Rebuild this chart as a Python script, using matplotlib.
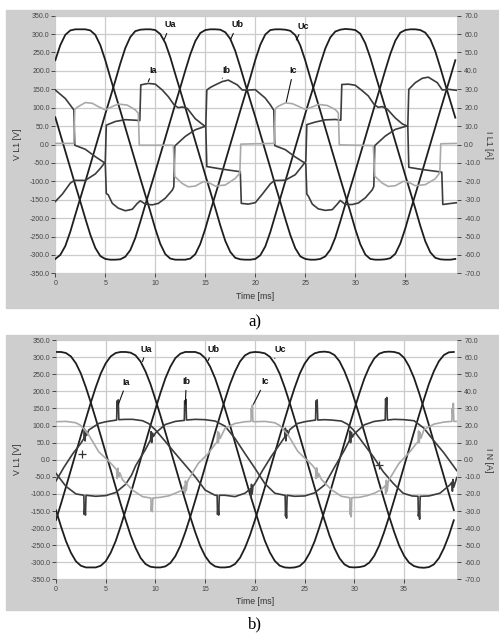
import numpy as np
import matplotlib.pyplot as plt
from matplotlib.patches import Rectangle

plt.rcParams['font.family'] = ['Liberation Sans', 'DejaVu Sans']

W, H = 499, 635

# voltage samples every 0.5 ms
t_v = np.arange(0, 40.25, 0.5)

# ---- a) voltages [V]
ua_a = [-311, -300, -276, -237, -191, -146, -101, -55, -9, 37, 83, 128, 173, 220, 262, 292, 308, 312, 313, 313,
        311, 300, 276, 237, 191, 146, 101, 55, 9, -37, -83, -128, -173, -220, -262, -292, -308, -312, -313, -313,
        -311, -301, -277, -238, -192, -146, -100, -54, -8, 38, 84, 129, 172, 219, 261, 291, 307, 312, 314, 313,
        311, 301, 275, 236, 190, 145, 100, 54, 8, -38, -84, -129, -174, -221, -263, -293, -308, -312, -313, -313,
        -311]
ub_a = [74, 28, -18, -64, -110, -155, -201, -245, -281, -303, -311, -313, -313, -312, -305, -287, -254, -210, -164,
        -119, -74, -28, 18, 64, 110, 155, 201, 245, 281, 303, 311, 313, 313, 312, 305, 287, 254, 210, 164, 119,
        75, 29, -17, -63, -111, -156, -202, -246, -282, -304, -311, -313, -313, -311, -304, -286, -253, -209, -163,
        -118, -73, -27, 19, 65, 111, 156, 202, 246, 282, 304, 311, 313, 313, 311, 304, 286, 253, 209, 163, 118,
        73]
uc_a = [229, 270, 298, 310, 313, 313, 313, 310, 298, 270, 229, 182, 137, 92, 46, 0, -46, -92, -137, -182,
        -229, -270, -298, -310, -313, -313, -313, -310, -298, -270, -229, -182, -137, -92, -46, 0, 46, 92, 137, 182,
        230, 271, 299, 311, 313, 313, 312, 309, 297, 269, 228, 181, 136, 91, 45, -1, -47, -93, -138, -183,
        -230, -271, -299, -311, -313, -313, -312, -309, -297, -269, -228, -181, -136, -91, -45, 1, 47, 93, 138, 183,
        229]

# ---- a) currents [A]
ia_a_t = [0, 0.7, 1.5, 1.9, 3.0, 4.0, 4.5, 5.0, 5.1, 6.0, 7.0, 8.0, 8.45, 8.55, 9.3, 10.0, 10.7, 11.3, 11.9, 12.3,
          12.7, 13.2, 14.0, 14.7, 15.05, 15.15, 16.7, 18.5, 18.6, 19.3,
          20, 20.7, 21.5, 21.9, 23.0, 24.0, 24.5, 25.05, 25.15, 26.0, 27.0, 28.0, 28.55, 28.65, 29.3, 30.0, 30.7,
          31.3, 31.9, 32.3, 32.7, 33.2, 34.0, 34.7, 35.25, 35.35, 36.7, 38.65, 38.75, 39.3, 40.2]
ia_a = [-31, -27, -21, -19.5, -19.5, -16, -13, -9.5, 10.5, 12.5, 13.5, 13.2, 13, 32.4, 33.2, 32.8, 29.6, 26, 21.4, 20,
        20.4, 19.6, 14, 11, 9.6, -12, -13.4, -14.8, -32, -32.4,
        -31.6, -27, -21.4, -19.6, -19.4, -16.4, -13, -9.2, 10.8, 12.2, 13.4, 13.6, 13.2, 32.6, 32.8, 32.2, 29.2,
        26.4, 21.6, 20.2, 20.6, 19.2, 14.4, 11.2, 9.8, -12.4, -13.6, -15, -32.6, -32.2, -31.6]

ib_a_t = [0, 1.0, 1.5, 1.85, 1.95, 3.0, 4.0, 5.0, 5.1, 5.3, 5.7, 6.3, 7.0, 7.7, 8.2, 8.5, 9.0, 9.7, 10.3, 11.0,
          11.7, 11.85, 11.95, 13.0, 14.0, 15.05, 15.15, 15.5, 16.0, 16.7, 17.3, 18.2, 18.7, 19.3,
          20, 21.0, 21.5, 21.85, 21.95, 23.0, 24.0, 25.05, 25.15, 25.3, 25.7, 26.3, 27.0, 27.7, 28.2, 28.5, 29.0,
          29.7, 30.3, 31.0, 31.7, 31.85, 31.95, 33.0, 34.0, 35.25, 35.35, 36.0, 36.7, 37.3, 38.2, 38.7, 39.3, 40.2]
ib_a = [29.6, 25, 21.4, 18.8, -0.4, -2.6, -6.6, -10.2, -26.6, -27.4, -32, -34.6, -36, -35.2, -32, -30.6, -32.4,
        -32.8, -32, -29.2, -24.8, -23, -0.8, 4.4, 8, 10, 29.6, 31, 32.4, 34.2, 35, 32.4, 29.6, 29.6,
        29.8, 25.2, 21.6, 18.6, -0.6, -2.8, -6.8, -10.4, -27, -28, -32.4, -35, -35.8, -35.4, -32.4, -30.4, -32.6,
        -32.6, -31.8, -29, -24.6, -22.8, -0.6, 4.6, 8.2, 10.2, 30, 33.6, 36, 36.6, 33.6, 29.6, 30, 29.4]

ic_a_t = [0, 1.85, 1.95, 2.3, 3.0, 3.7, 4.3, 5.0, 5.7, 6.3, 7.2, 8.0, 8.3, 8.4, 11.8, 11.95, 12.7, 13.3, 14.0,
          14.8, 15.3, 16.0, 17.0, 18.0, 18.45, 18.55,
          20, 21.9, 22.0, 22.3, 23.0, 23.7, 24.3, 25.0, 25.7, 26.3, 27.2, 28.0, 28.3, 28.4, 31.8, 31.95, 32.7, 33.3,
          34.0, 34.8, 35.3, 36.0, 37.0, 38.0, 38.45, 38.55, 40.2]
ic_a = [0.6, 0.6, 19.2, 20.6, 22.8, 22.4, 20.6, 18.8, 20.6, 22, 21.4, 18.8, 17, -0.4, -0.4, -17.4, -21.2, -23,
        -22.6, -20.2, -20.6, -22.6, -22, -18.4, -15.6, 0.2,
        0.4, 0.6, 19.4, 20.8, 22.6, 22.2, 20.8, 19, 20.4, 21.8, 21.2, 19, 17.2, -0.2, -0.6, -17.2, -21, -22.8,
        -22.4, -20, -20.4, -22.4, -21.8, -18.6, -15.4, 0.4, 0.6]

# ---- b) voltages [V]
ua_b = [-176, -129, -80, -30, 20, 70, 119, 167, 212, 252, 282, 302, 312, 315, 315, 313, 305, 287, 258, 221,
        176, 129, 80, 30, -20, -70, -119, -167, -212, -252, -282, -302, -312, -315, -315, -313, -305, -287, -258, -221,
        -177, -130, -81, -31, 19, 69, 118, 166, 211, 251, 281, 301, 311, 315, 316, 314, 306, 288, 259, 222,
        177, 130, 81, 31, -19, -69, -118, -166, -211, -251, -281, -301, -311, -315, -316, -314, -306, -288, -259, -222,
        -177]
ub_b = [-148, -195, -238, -272, -297, -310, -315, -315, -315, -310, -297, -272, -238, -195, -148, -100, -50, 0, 50, 100,
        148, 195, 238, 272, 297, 310, 315, 315, 315, 310, 297, 272, 238, 195, 148, 100, 50, 0, -50, -100,
        -147, -194, -237, -271, -296, -310, -315, -316, -315, -311, -298, -273, -239, -196, -149, -101, -51, -1, 49, 99,
        147, 194, 237, 271, 296, 310, 315, 316, 315, 311, 298, 273, 239, 196, 149, 101, 51, 1, -49, -99,
        -147]
uc_b = [315, 315, 312, 302, 282, 252, 212, 167, 119, 70, 20, -30, -80, -129, -176, -221, -258, -287, -305, -313,
        -315, -315, -312, -302, -282, -252, -212, -167, -119, -70, -20, 30, 80, 129, 176, 221, 258, 287, 305, 313,
        315, 314, 311, 301, 281, 251, 211, 166, 118, 69, 19, -31, -81, -130, -177, -222, -259, -288, -306, -314,
        -315, -314, -311, -301, -281, -251, -211, -166, -118, -69, -19, 31, 81, 130, 177, 222, 259, 288, 306, 314,
        315]

# ---- b) currents [A]
ia_b_t = [0, 0.8, 1.7, 2.5, 2.8, 2.86, 2.92, 3.0, 3.1, 3.3, 4.3, 5.0, 6.1, 6.14, 6.2, 6.26, 6.32, 7.0, 7.7, 8.7,
          9.3, 10.0, 11.0, 12.0, 13.0, 14.0, 15.0, 16.0, 16.2, 16.24, 16.3, 16.36, 16.42, 17.0, 18.0, 19.0, 19.55,
          19.6, 19.66, 19.72, 19.8,
          20.0, 20.8, 21.7, 22.5, 23.0, 23.06, 23.12, 23.2, 23.3, 23.5, 24.3, 25.0, 26.1, 26.14, 26.2, 26.26, 26.32,
          27.0, 27.7, 28.7, 29.3, 29.9, 30.9, 31.9, 32.9, 33.9, 34.9, 35.8, 36.4, 36.44, 36.5, 36.56, 36.62, 37.5,
          38.6, 39.6, 39.8, 39.86, 39.92, 40.0, 40.3]
ia_b = [-12.4, -4.4, 3.6, 9.6, 12.4, 18, 11, 16.8, 14.4, 17.4, 21.2, 22.2, 23.2, 34.4, 30, 35, 23.4, 23.6, 23.6, 22.8,
        21.2, 17.4, 10.6, 3.6, -3.2, -10, -17.8, -20.8, -20.8, -32, -28, -32.4, -20.8, -20.8, -21.6, -19.6, -17,
        -21.6, -14.4, -20, -15.6,
        -14, -6, 2.4, 9, 13.2, 18.4, 11, 17.2, 14.4, 17.6, 21.2, 22.2, 23.2, 34.4, 30, 35, 23.2,
        23.4, 23.2, 22.6, 20.8, 17.4, 9.6, 1.8, -7, -13.8, -19.6, -21.2, -21.4, -33, -29, -34.8, -21.4, -21.2,
        -19.6, -14.8, -13.2, -18.4, -11.6, -16, -10.4]

ib_b_t = [0, 1, 2, 2.8, 2.84, 2.9, 2.96, 3.02, 4, 5, 6, 7, 7.6, 8, 9, 9.5, 9.56, 9.62, 9.7, 9.8, 10, 11, 12, 12.9,
          12.94, 13.0, 13.06, 13.12, 14, 15, 16, 17, 18, 19,
          20, 21, 22, 23.0, 23.04, 23.08, 23.13, 23.18, 23.24, 24, 25, 26, 27, 28, 29, 29.5, 29.56, 29.62, 29.7,
          29.8, 30, 31, 32, 33.1, 33.14, 33.2, 33.26, 33.32, 34, 35, 36, 37, 38, 39, 40, 40.3]
ib_b = [-8, -15.6, -20, -20.8, -32, -28, -32.4, -20.8, -21.4, -21, -19.2, -14.4, -9, -3.6, 6, 11.6, 16.4, 10, 15.6,
        13.6, 15.6, 20.6, 22.4, 23, 34.4, 30, 35.2, 23.2, 23.6, 23.4, 22.6, 19.6, 12.4, 3.6,
        -5, -14, -19.6, -20.8, -20.8, -33, -29, -34.2, -20.8, -21.4, -21.2, -19.4, -14.8, -4.4, 5.6, 11.2, 16.8, 10,
        16, 13.2, 15.2, 20.4, 22.4, 23.2, 35.6, 31, 36.4, 23.2, 23.6, 23.4, 22.8, 18.4, 11, 4, -4, -6.4]

ic_b_t = [0, 1, 2, 2.5, 3.3, 4.3, 5.0, 5.7, 6.1, 6.15, 6.22, 6.3, 6.4, 6.7, 7.7, 8.7, 9.5, 9.54, 9.58, 9.63, 9.68,
          9.74, 10.5, 11.3, 12.0, 12.7, 12.9, 12.95, 13.02, 13.1, 13.2, 13.3, 14.3, 15.3, 16.0, 16.2, 16.26, 16.32,
          16.4, 16.5, 17, 18, 19, 19.6, 19.64, 19.7, 19.75, 19.8,
          20, 21, 22, 22.5, 23.3, 24.3, 25, 25.7, 26.1, 26.15, 26.22, 26.3, 26.4, 26.7, 27.7, 28.7, 29.5, 29.54,
          29.58, 29.63, 29.68, 29.74, 30.5, 31.3, 32, 32.7, 33.1, 33.15, 33.22, 33.3, 33.4, 33.5, 34.5, 35.5, 36.2,
          36.4, 36.46, 36.52, 36.6, 36.7, 37, 38, 39, 39.8, 39.84, 39.9, 39.95, 40.0, 40.3]
ic_b = [22.2, 22.4, 21.6, 20, 14.4, 4.6, 0.8, -3.2, -6, -11, -5, -10, -7.6, -11.8, -17.8, -21.6, -22.4, -22.4, -30,
        -26.4, -30.4, -22.4, -22, -21.2, -19.6, -17.8, -15.6, -19.6, -12.4, -18, -13.2, -11.8, -2.2, 3.6, 9, 10.4,
        16.4, 10, 15.6, 12.4, 18.4, 21.2, 22.2, 22.4, 30, 25.6, 32, 22.4,
        22.2, 22.4, 21.6, 20, 14.8, 5, 1, -2.8, -5.6, -11, -4.8, -10.4, -8, -11.6, -17.6, -21.4, -22.2, -22.2,
        -32, -28, -33.4, -22.2, -22, -21, -19.6, -17.6, -15.2, -20, -12, -18.4, -13.2, -11.6, -2, 4, 9.2,
        10.4, 16.8, 10, 16, 12.6, 17.6, 20.8, 22, 22.4, 30, 26, 33, 22.4, 22.4]

# cursor marks in b) [ms, V]
cur_t = [2.6, 32.5]
cur_v = [16, -16]

# trace labels: text position and point on the trace [ms, V]
labels_a = [('Ua', 11.5, 325, 10.9, 286), ('Ub', 18.2, 325, 17.5, 284), ('Uc', 24.8, 322, 24.1, 284),
            ('Ia', 9.8, 202, 9.3, 171), ('Ib', 17.1, 200, 16.7, 180), ('Ic', 23.8, 200, 23.1, 116)]
labels_b = [('Ua', 9.1, 323, 8.7, 287), ('Ub', 15.8, 323, 15.3, 290), ('Uc', 22.5, 321, 22.0, 296),
            ('Ia', 7.1, 226, 6.27, 162), ('Ib', 13.1, 228, 13.0, 162), ('Ic', 21.0, 228, 19.85, 162)]

frame_col = '#cecece'
grid_col = '#cbcbcb'
volt_col = '#1e1e1e'
cur_dark = '#3c3c3c'
cur_light = '#a9a9a9'
tick_col = '#454545'


def fx(x):
    return x / W


def fy(y):
    return 1 - y / H


fig = plt.figure(figsize=(W / 100, H / 100), dpi=100)


def draw_panel(box, frame, xmax, volts, currs, labels, right_label, tlab_y, tag, tag_y):
    x0, y0, x1, y1 = frame
    fig.patches.append(Rectangle((fx(x0), fy(y1)), fx(x1 - x0), (y1 - y0) / H,
                                 transform=fig.transFigure, color=frame_col, zorder=-5))
    l, t, r, b = box
    ax = fig.add_axes([fx(l), fy(b), (r - l) / W, (b - t) / H])
    ax.set_xlim(0, xmax)
    ax.set_ylim(-350, 350)
    ax.set_xticks(np.arange(0, 40, 5))
    ax.set_yticks(np.arange(-350, 351, 50))
    ax.set_yticklabels(['%.1f' % v for v in np.arange(-350, 351, 50)])
    ax.grid(True, color=grid_col, lw=0.9)
    ax.set_axisbelow(True)
    for s in ax.spines.values():
        s.set_visible(False)
    ax.tick_params(axis='y', length=3, width=0.7, color=tick_col, labelsize=5, labelcolor=tick_col, pad=1)
    ax.tick_params(axis='x', length=3, width=0.7, color=tick_col, labelsize=5, labelcolor=tick_col, pad=2)

    for u in volts:
        ax.plot(t_v, u, color=volt_col, lw=1.3, zorder=3)

    ax2 = ax.twinx()
    ax2.set_ylim(-70, 70)
    ax2.set_yticks(np.arange(-70, 71, 10))
    ax2.set_yticklabels(['%.1f' % v for v in np.arange(-70, 71, 10)])
    for s in ax2.spines.values():
        s.set_visible(False)
    ax2.tick_params(axis='y', length=3, width=0.7, color=tick_col, labelsize=5, labelcolor=tick_col, pad=2)
    for (tt, ii), c in zip(currs, [cur_dark, cur_dark, cur_light]):
        ax2.plot(tt, ii, color=c, lw=1.2, zorder=2)

    for name, lx, ly, px, py in labels:
        ax2.annotate(name, xy=(px, py / 5), xytext=(lx, ly / 5), ha='center', va='center',
                     fontsize=6.5, fontweight='bold', color='#111111',
                     arrowprops=dict(arrowstyle='-', lw=0.8, color='#111111', shrinkA=1, shrinkB=0))

    cy = (t + b) / 2
    fig.text(fx(17), fy(cy), 'V L1 [V]', rotation=90, ha='center', va='center', fontsize=6.3, color='#333333')
    fig.text(fx(489), fy(cy), right_label, rotation=270, ha='center', va='center', fontsize=6.3, color='#333333')
    fig.text(fx(255), fy(tlab_y), 'Time [ms]', ha='center', va='center', fontsize=6.3, color='#333333')
    fig.text(fx(255), fy(tag_y), tag, ha='center', va='center', fontsize=12,
             family=['Liberation Serif', 'DejaVu Serif'])
    return ax, ax2


draw_panel((55.3, 15.7, 457.3, 273.3), (6, 10, 499, 307.7), 40.2,
           [ua_a, ub_a, uc_a], [(ia_a_t, ia_a), (ib_a_t, ib_a), (ic_a_t, ic_a)],
           labels_a, 'I L1 [A]', 297, 'a)', 322)

axb, axb2 = draw_panel((56, 340, 457.3, 579.4), (6, 335, 499, 610), 40.35,
                       [ua_b, ub_b, uc_b], [(ia_b_t, ia_b), (ib_b_t, ib_b), (ic_b_t, ic_b)],
                       labels_b, 'I N [A]', 601.7, 'b)', 624)
axb.plot(cur_t, cur_v, '+', color='#333333', ms=6, mew=0.9, zorder=5)

plt.savefig('out.png', dpi=100)
